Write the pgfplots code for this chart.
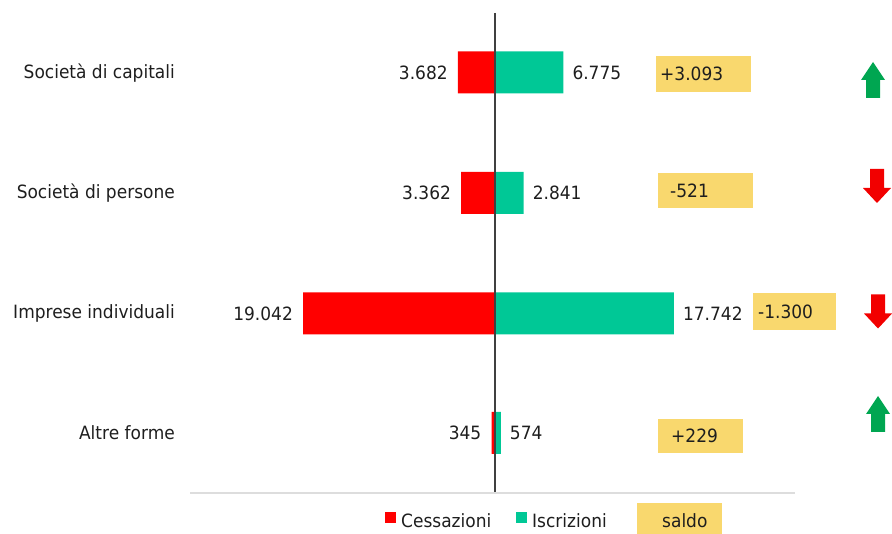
\documentclass[border=0pt]{standalone}
\usepackage{fontspec}
\setmainfont{DejaVu Sans}[FakeStretch=0.93]
\usepackage{pgfplots}
\usepackage{pgfplotstable}
\pgfplotsset{compat=1.18}
\definecolor{cesred}{HTML}{FF0000}
\definecolor{iscgreen}{HTML}{00C896}
\definecolor{saldoy}{HTML}{F9D86E}
\definecolor{arrgreen}{HTML}{00A651}
\definecolor{arrred}{HTML}{F20000}
\definecolor{axgray}{HTML}{404040}
\definecolor{lgray}{HTML}{DDDDDD}
\definecolor{txt}{HTML}{1E1E1E}
\newcommand\f{\fontsize{18.3}{22}\selectfont}

\pgfdeclareplotmark{uparr}{%
  \pgfpathmoveto{\pgfqpoint{0pt}{18pt}}%
  \pgfpathlineto{\pgfqpoint{12pt}{0pt}}%
  \pgfpathlineto{\pgfqpoint{7pt}{0pt}}%
  \pgfpathlineto{\pgfqpoint{7pt}{-18pt}}%
  \pgfpathlineto{\pgfqpoint{-7pt}{-18pt}}%
  \pgfpathlineto{\pgfqpoint{-7pt}{0pt}}%
  \pgfpathlineto{\pgfqpoint{-12pt}{0pt}}%
  \pgfpathclose
  \pgfusepathqfill}
\pgfdeclareplotmark{dnarr}{%
  \pgfpathmoveto{\pgfqpoint{0pt}{-17pt}}%
  \pgfpathlineto{\pgfqpoint{14pt}{-2pt}}%
  \pgfpathlineto{\pgfqpoint{7pt}{-2pt}}%
  \pgfpathlineto{\pgfqpoint{7pt}{17pt}}%
  \pgfpathlineto{\pgfqpoint{-7pt}{17pt}}%
  \pgfpathlineto{\pgfqpoint{-7pt}{-2pt}}%
  \pgfpathlineto{\pgfqpoint{-14pt}{-2pt}}%
  \pgfpathclose
  \pgfusepathqfill}

\pgfplotstableread{
y     ces    isc    lc      li
72.5  3682   6775   3.682   6.775
193   3362   2841   3.362   2.841
313.5 19042  17742  19.042  17.742
433   345    574    345     574
}\bars

\pgfplotstableread{
x       y      name
-31744  73     {Società di capitali}
-31744  193    {Società di persone}
-31744  313.5  {Imprese individuali}
-31744  433    {Altre forme}
}\cats

\pgfplotstableread{
x      y      lab
16368  74     +3.093
17360  190.5  -521
26090  311.5  -1.300
17459  436    +229
}\saldo

\pgfplotstableread{
x      y      dir
37498  80     up
37894  186    dn
37994  311.5  dn
37994  414    up
}\arrows

\begin{document}
\begin{tikzpicture}
\begin{axis}[
  scale only axis, width=892pt, height=534pt,
  xmin=-49104, xmax=39382, ymin=0, ymax=534, y dir=reverse,
  axis lines=none, clip=false,
]
\coordinate (BL) at (rel axis cs:0,0);
\coordinate (TR) at (rel axis cs:1,1);
% saldo boxes
\addplot[fill=saldoy, draw=none] coordinates {(15971,56) (25395,56) (25395,92) (15971,92)} --cycle;
\addplot[fill=saldoy, draw=none] coordinates {(16170,173) (25594,173) (25594,208) (16170,208)} --cycle;
\addplot[fill=saldoy, draw=none] coordinates {(25594,293) (33827,293) (33827,330) (25594,330)} --cycle;
\addplot[fill=saldoy, draw=none] coordinates {(16170,419) (24602,419) (24602,453) (16170,453)} --cycle;
% legend saldo box
\addplot[fill=saldoy, draw=none] coordinates {(14086,503) (22518,503) (22518,534) (14086,534)} --cycle;

% bars
\addplot[xbar, bar width=42, bar shift=0pt, fill=cesred, draw=none,
  nodes near coords, point meta=explicit symbolic,
  every node near coord/.style={font=\f, text=txt, inner sep=0pt, anchor=east, xshift=-10pt}]
  table[x expr=-\thisrow{ces}, y=y, meta=lc] {\bars};
\addplot[xbar, bar width=42, bar shift=0pt, fill=iscgreen, draw=none,
  nodes near coords, point meta=explicit symbolic,
  every node near coord/.style={font=\f, text=txt, inner sep=0pt, anchor=west, xshift=9pt}]
  table[x=isc, y=y, meta=li] {\bars};

% axis lines
\addplot[color=axgray, line width=1.3pt] coordinates {(0,13) (0,493)};
\addplot[color=lgray, line width=1.2pt] coordinates {(-30256,493) (29760,493)};

% category labels
\addplot[only marks, mark=none, nodes near coords, point meta=explicit symbolic,
  every node near coord/.style={font=\f, text=txt, inner sep=0pt, anchor=east}]
  table[x=x, y=y, meta=name] {\cats};

% saldo labels
\addplot[only marks, mark=none, nodes near coords, point meta=explicit symbolic,
  every node near coord/.style={font=\f, text=txt, inner sep=0pt, anchor=west}]
  table[x=x, y=y, meta=lab] {\saldo};

% arrows
\addplot[only marks, scatter, scatter src=explicit symbolic,
  scatter/classes={up={mark=uparr, fill=arrgreen, draw=none},
                   dn={mark=dnarr, fill=arrred, draw=none}}]
  table[x=x, y=y, meta=dir] {\arrows};

% legend
\fill[cesred] (axis cs:-10912,512) rectangle (axis cs:-9821,523);
\node[font=\f, text=txt, anchor=base west, inner sep=0pt] at (axis cs:-9325,527) {Cessazioni};
\fill[iscgreen] (axis cs:2083,512) rectangle (axis cs:3174,523);
\node[font=\f, text=txt, anchor=base west, inner sep=0pt] at (axis cs:3670,527) {Iscrizioni};
\node[font=\f, text=txt, anchor=base west, inner sep=0pt] at (axis cs:16566,527) {saldo};
\end{axis}
\pgfresetboundingbox
\path (BL) rectangle (TR);
\end{tikzpicture}
\end{document}
